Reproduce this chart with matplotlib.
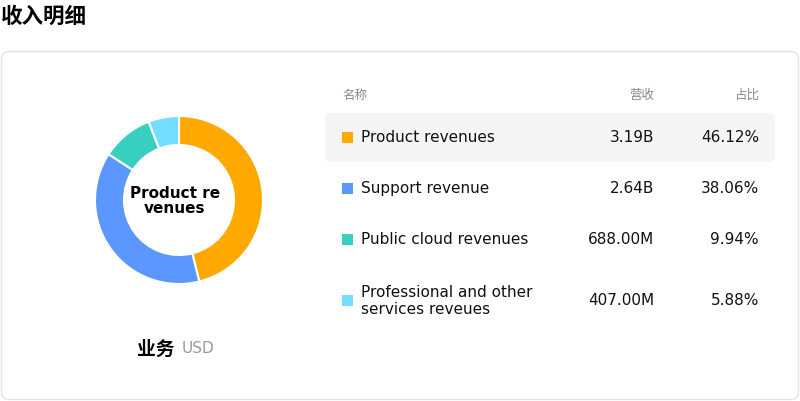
import matplotlib
matplotlib.use("Agg")
import matplotlib.pyplot as plt
from matplotlib.patches import FancyBboxPatch, Rectangle

plt.rcParams['font.family'] = ['DejaVu Sans', 'Noto Sans CJK SC']
CJK = ['Noto Sans CJK SC', 'DejaVu Sans']

names = ["Product revenues", "Support revenue", "Public cloud revenues", "Professional and other\nservices reveues"]
revenue_labels = ["3.19B", "2.64B", "688.00M", "407.00M"]
shares = [46.12, 38.06, 9.94, 5.88]
colors = ["#FFA800", "#5B97FF", "#36CFC0", "#75DDFF"]

W, H = 800, 402
fig = plt.figure(figsize=(8, 4.02), dpi=100)
bg = fig.add_axes([0, 0, 1, 1])
bg.set_xlim(0, W); bg.set_ylim(H, 0); bg.axis('off')

bg.text(1, 16, "收入明细", fontsize=15.5, fontweight='bold', family=CJK, va='center', ha='left')
bg.add_patch(FancyBboxPatch((1.5, 52.5), 797, 348, boxstyle="round,pad=0,rounding_size=8",
                            fc='white', ec='#e3e3ea', lw=1))

# table
bg.text(342, 95, "名称", fontsize=9, color='#888888', family=CJK, va='center')
bg.text(654, 95, "营收", fontsize=9, color='#888888', family=CJK, va='center', ha='right')
bg.text(759, 95, "占比", fontsize=9, color='#888888', family=CJK, va='center', ha='right')
bg.add_patch(FancyBboxPatch((325, 114), 450, 49, boxstyle="round,pad=0,rounding_size=6",
                            fc='#f5f5f5', ec='none'))
rows_y = [138, 189, 240, 301]
for y, n, r, s, c in zip(rows_y, names, revenue_labels, shares, colors):
    bg.add_patch(Rectangle((341.5, y - 5.5), 11, 11, fc=c, ec='none'))
    bg.text(361, y, n, fontsize=11, va='center', ha='left', color='#111111', linespacing=1.15)
    bg.text(654, y, r, fontsize=11, va='center', ha='right', color='#111111')
    bg.text(759, y, f"{s:.2f}%", fontsize=11, va='center', ha='right', color='#111111')

# donut
cx, cy, R = 179, 201, 84
pax = fig.add_axes([(cx - R) / W, (H - cy - R) / H, 2 * R / W, 2 * R / H])
pax.pie(shares, colors=colors, startangle=90, counterclock=False, radius=1,
        wedgeprops=dict(width=29 / R, edgecolor='white', linewidth=1.5))
pax.set_xlim(-1, 1); pax.set_ylim(-1, 1)
pax.set_aspect('equal')
bg.text(cx - 4, cy, "Product re\nvenues", fontsize=11, fontweight='bold', ha='center', va='center',
        linespacing=1.0)
bg.text(174, 349, "业务", fontsize=13.5, fontweight='bold', family=CJK, ha='right', va='center')
bg.text(182, 349, "USD", fontsize=11, color='#999999', ha='left', va='center')

fig.savefig("out.png", dpi=100)
